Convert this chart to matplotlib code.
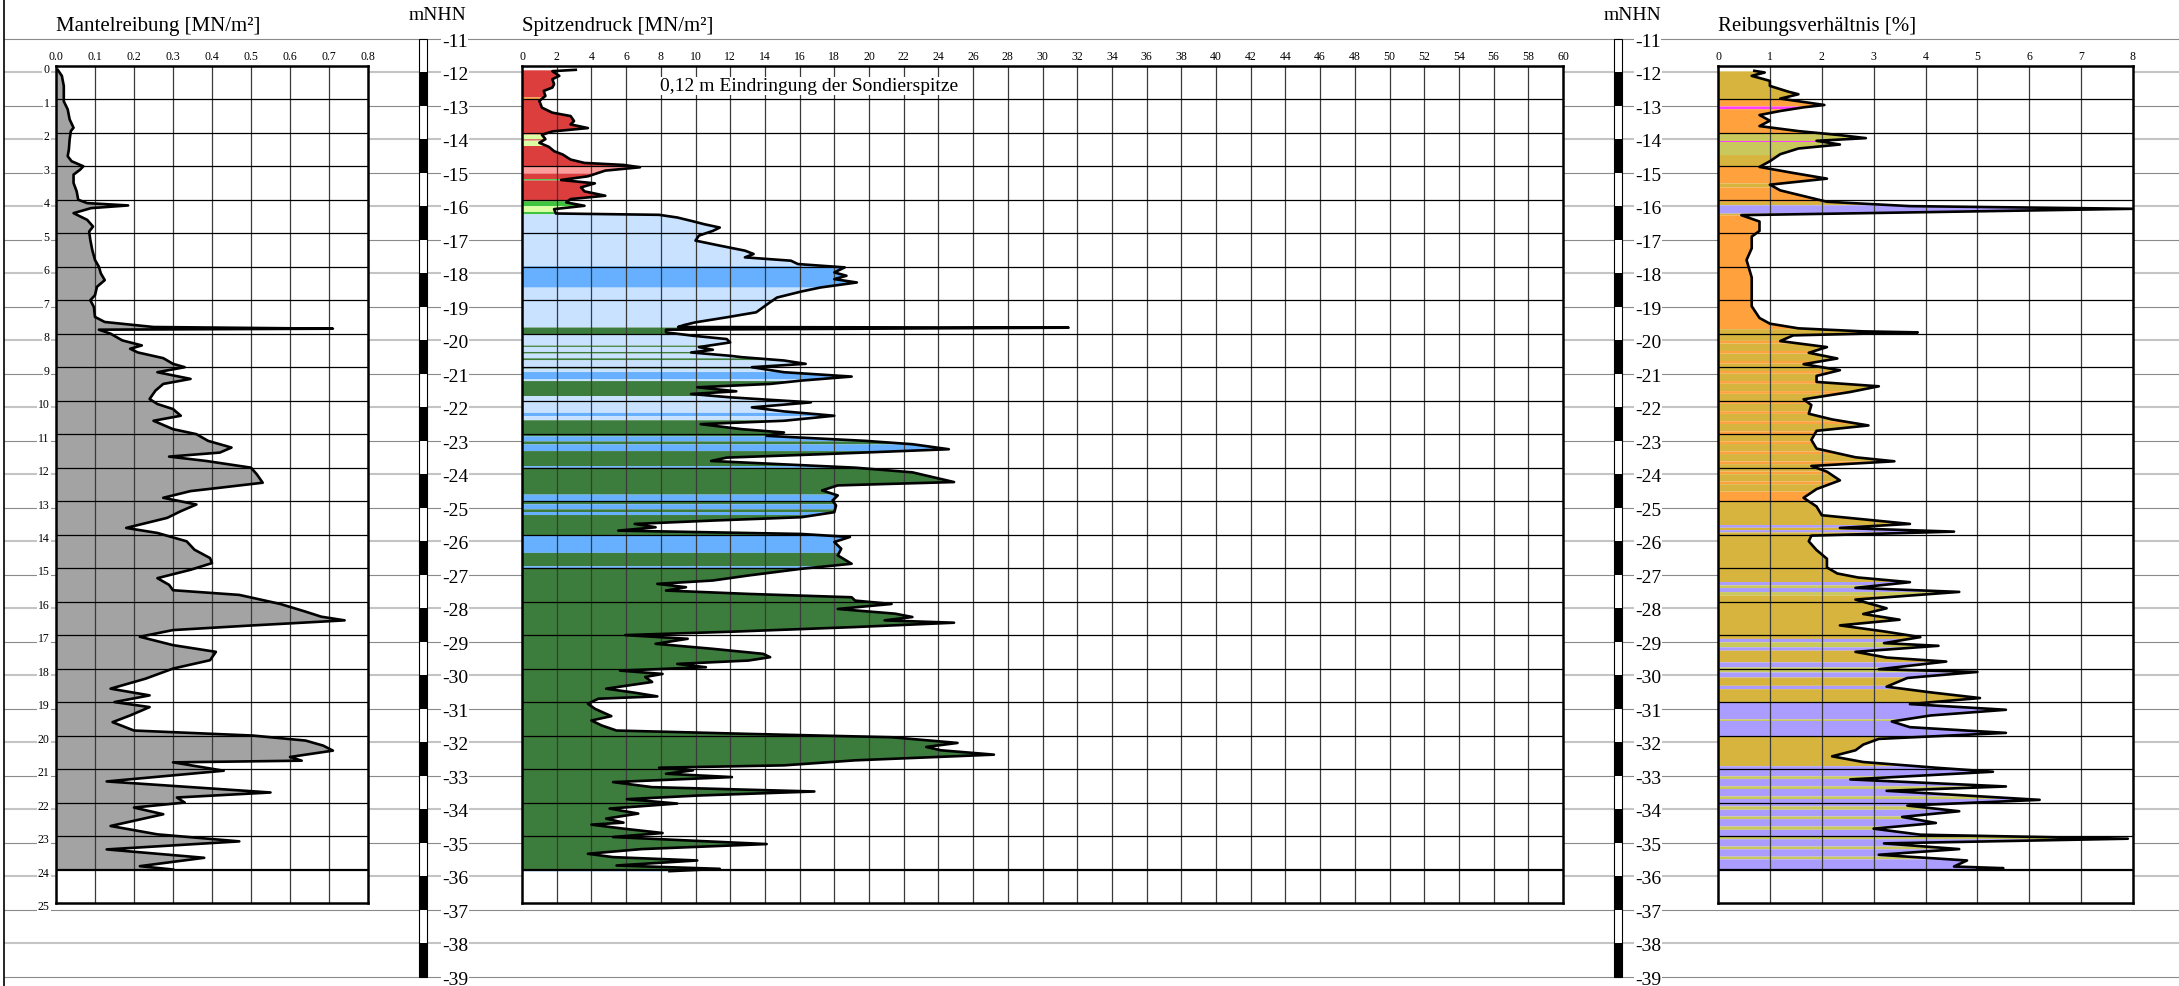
import numpy as np
import matplotlib.pyplot as plt
from matplotlib.patches import Rectangle

plt.rcParams['font.family'] = ['Liberation Serif', 'DejaVu Serif']

# ---- data (depth below box top in m, box top = -11.8 mNHN) ----
top_elev = -11.8

fs_depth = [0.13, 0.3, 0.6, 1.06, 1.3, 1.6, 1.85, 1.95, 2.2, 2.5, 2.7, 2.85, 3.0, 3.1, 3.25,
            3.5, 3.75, 4.0, 4.1, 4.17, 4.25, 4.4, 4.6, 4.8, 4.95, 5.2, 5.5, 5.8, 6.0, 6.2,
            6.4, 6.6, 6.85, 7.0, 7.2, 7.5, 7.65, 7.8, 7.85, 7.88, 8.0, 8.2, 8.35, 8.45, 8.56,
            8.73, 8.9, 9.0, 9.15, 9.35, 9.5, 9.7, 9.95, 10.1, 10.25, 10.45, 10.6, 10.85, 11.0,
            11.2, 11.4, 11.55, 11.67, 11.8, 12.0, 12.2, 12.45, 12.6, 12.7, 12.9, 13.1, 13.3,
            13.5, 13.8, 13.95, 14.2, 14.45, 14.7, 14.85, 15.05, 15.3, 15.5, 15.66, 15.8, 16.07,
            16.3, 16.45, 16.56, 16.65, 16.72, 16.85, 17.05, 17.3, 17.5, 17.75, 18.0, 18.3, 18.6,
            18.8, 19.0, 19.15, 19.4, 19.6, 19.85, 20.0, 20.15, 20.3, 20.45, 20.64, 20.75, 20.8,
            21.05, 21.37, 21.7, 21.85, 22.0, 22.15, 22.35, 22.7, 22.95, 23.16, 23.4, 23.65,
            23.9, 24.0]
fs_val = [0.005, 0.015, 0.02, 0.02, 0.03, 0.035, 0.045, 0.038, 0.035, 0.033, 0.03, 0.04, 0.07,
          0.062, 0.045, 0.045, 0.053, 0.057, 0.08, 0.185, 0.09, 0.045, 0.08, 0.095, 0.085, 0.088,
          0.093, 0.1, 0.11, 0.115, 0.125, 0.105, 0.1, 0.088, 0.097, 0.1, 0.125, 0.25, 0.71, 0.11,
          0.14, 0.17, 0.22, 0.19, 0.21, 0.275, 0.3, 0.33, 0.26, 0.345, 0.275, 0.255, 0.24, 0.26,
          0.3, 0.32, 0.25, 0.3, 0.36, 0.39, 0.45, 0.42, 0.29, 0.385, 0.5, 0.515, 0.53, 0.42,
          0.345, 0.275, 0.36, 0.32, 0.285, 0.18, 0.26, 0.335, 0.355, 0.395, 0.4, 0.345, 0.26,
          0.29, 0.3, 0.47, 0.575, 0.64, 0.68, 0.74, 0.6, 0.49, 0.3, 0.215, 0.3, 0.41, 0.395, 0.3,
          0.23, 0.14, 0.24, 0.15, 0.24, 0.19, 0.145, 0.2, 0.505, 0.64, 0.685, 0.71, 0.6, 0.63,
          0.3, 0.43, 0.13, 0.55, 0.31, 0.33, 0.2, 0.275, 0.14, 0.26, 0.47, 0.13, 0.38, 0.215, 0.3]

qc_depth = [0.12, 0.16, 0.3, 0.4, 0.55, 0.65, 0.75, 0.9, 1.05, 1.25, 1.4, 1.5, 1.65, 1.75, 1.86,
            1.96, 2.06, 2.19, 2.3, 2.42, 2.55, 2.65, 2.8, 2.9, 2.96, 3.03, 3.13, 3.3, 3.41, 3.51,
            3.63, 3.75, 3.88, 3.98, 4.08, 4.18, 4.28, 4.41, 4.45, 4.53, 4.63, 4.73, 4.83, 4.93,
            5.07, 5.22, 5.37, 5.52, 5.62, 5.72, 5.82, 5.92, 6.02, 6.17, 6.27, 6.37, 6.47, 6.62,
            6.74, 6.92, 7.06, 7.21, 7.36, 7.51, 7.66, 7.74, 7.8, 7.82, 7.88, 7.96, 8.06, 8.16,
            8.26, 8.4, 8.48, 8.56, 8.66, 8.7, 8.8, 8.9, 9.0, 9.15, 9.28, 9.4, 9.5, 9.6, 9.72, 9.8,
            9.9, 10.05, 10.2, 10.32, 10.45, 10.6, 10.7, 10.85, 10.95, 11.05, 11.2, 11.3, 11.45,
            11.6, 11.7, 11.8, 11.9, 12.0, 12.14, 12.34, 12.43, 12.53, 12.68, 12.83, 12.98, 13.13,
            13.33, 13.48, 13.58, 13.68, 13.78, 13.88, 13.98, 14.07, 14.22, 14.42, 14.62, 14.87,
            15.02, 15.22, 15.37, 15.47, 15.57, 15.67, 15.77, 15.87, 15.97, 16.07, 16.22, 16.36,
            16.46, 16.56, 16.63, 16.76, 16.9, 17.0, 17.11, 17.26, 17.41, 17.56, 17.66, 17.76,
            17.86, 17.96, 18.06, 18.16, 18.25, 18.4, 18.6, 18.72, 18.83, 18.9, 19.05, 19.2, 19.42,
            19.55, 19.7, 19.85, 19.95, 20.05, 20.22, 20.34, 20.44, 20.57, 20.74, 20.89, 20.96,
            21.04, 21.14, 21.24, 21.39, 21.54, 21.67, 21.79, 21.9, 22.03, 22.18, 22.33, 22.48,
            22.6, 22.66, 22.78, 22.91, 23.03, 23.24, 23.39, 23.53, 23.63, 23.73, 23.88, 23.98,
            24.05]
qc_val = [3.1, 1.75, 2.15, 1.75, 1.85, 1.75, 1.25, 1.35, 1.0, 1.15, 1.75, 2.8, 3.0, 2.8, 3.8,
          1.75, 1.15, 1.35, 1.0, 1.55, 1.85, 2.35, 2.8, 3.6, 5.85, 6.8, 4.8, 3.8, 2.25, 4.2, 3.4,
          3.6, 4.8, 2.8, 2.55, 3.6, 1.85, 1.95, 7.9, 8.95, 9.75, 10.5, 11.4, 11.0, 10.2, 10.0,
          11.4, 12.85, 13.35, 12.85, 15.5, 15.9, 18.6, 18.0, 18.7, 18.0, 19.3, 17.2, 16.1, 14.7,
          14.3, 13.9, 13.5, 11.8, 10.0, 9.35, 9.0, 31.5, 8.3, 8.3, 9.85, 11.8, 12.0, 10.2, 11.0,
          9.75, 12.0, 12.65, 15.1, 16.35, 13.25, 15.1, 19.0, 16.1, 14.3, 10.1, 12.35, 9.75, 12.0,
          16.65, 13.25, 15.1, 18.0, 15.1, 10.3, 12.65, 15.1, 14.1, 19.8, 22.5, 24.6, 17.2, 11.8,
          10.9, 15.1, 19.2, 22.5, 24.15, 24.9, 18.2, 17.3, 18.2, 17.9, 18.1, 18.0, 16.1, 11.0,
          6.5, 7.7, 5.55, 16.1, 18.9, 18.0, 18.4, 18.2, 19.0, 16.1, 13.05, 11.0, 7.8, 9.45, 8.3,
          13.05, 19.0, 19.2, 21.3, 18.2, 21.5, 22.5, 20.9, 24.9, 19.2, 12.0, 5.95, 9.55, 7.7,
          11.0, 13.9, 14.3, 13.05, 8.95, 10.6, 5.65, 8.1, 7.1, 7.5, 4.85, 6.5, 7.8, 4.4, 3.8, 4.2,
          5.15, 4.0, 4.6, 5.45, 13.05, 21.3, 25.1, 23.3, 24.15, 27.2, 19.2, 15.1, 7.9, 9.85, 8.3,
          12.1, 5.25, 7.5, 16.85, 10.2, 6.05, 8.95, 5.05, 6.7, 4.85, 5.85, 4.0, 5.85, 8.1, 5.25,
          14.1, 6.9, 3.8, 5.25, 10.1, 5.45, 11.4, 8.5]

rf_depth = [0.15, 0.2, 0.3, 0.45, 0.6, 0.77, 0.85, 0.98, 1.08, 1.17, 1.24, 1.35, 1.47, 1.64, 1.8,
            1.95, 2.07, 2.16, 2.24, 2.35, 2.47, 2.64, 2.85, 3.02, 3.2, 3.37, 3.55, 3.72, 3.89,
            4.06, 4.19, 4.27, 4.38, 4.46, 4.65, 4.93, 5.1, 5.45, 5.8, 6.32, 6.84, 7.18, 7.53, 7.7,
            7.84, 7.93, 7.96, 8.05, 8.22, 8.4, 8.57, 8.74, 8.91, 9.09, 9.26, 9.44, 9.57, 9.74,
            9.96, 10.13, 10.39, 10.56, 10.74, 10.9, 11.17, 11.43, 11.69, 11.81, 11.95, 12.12,
            12.38, 12.64, 12.9, 13.16, 13.42, 13.68, 13.8, 13.91, 14.03, 14.2, 14.46, 14.72,
            14.98, 15.16, 15.28, 15.42, 15.59, 15.71, 15.94, 16.2, 16.37, 16.54, 16.71, 16.89,
            17.06, 17.24, 17.32, 17.5, 17.67, 17.79, 18.02, 18.1, 18.28, 18.54, 18.71, 18.88,
            19.06, 19.23, 19.4, 19.58, 19.75, 19.92, 20.1, 20.27, 20.44, 20.62, 20.79, 20.96,
            21.08, 21.31, 21.52, 21.65, 21.92, 22.09, 22.26, 22.43, 22.61, 22.78, 22.96, 23.08,
            23.22, 23.39, 23.56, 23.73, 23.91, 23.96, 24.0]
rf_val = [0.7, 0.9, 0.65, 1.0, 1.0, 1.35, 1.55, 1.2, 1.65, 2.05, 1.65, 1.2, 0.8, 1.0, 0.8, 1.55,
          2.35, 2.85, 1.9, 2.35, 1.55, 1.2, 1.0, 0.8, 1.45, 2.1, 1.0, 1.2, 1.65, 2.1, 3.7, 8.0,
          3.7, 0.45, 0.8, 0.8, 0.65, 0.65, 0.55, 0.65, 0.65, 0.65, 0.8, 1.0, 1.55, 2.8, 3.85,
          1.45, 1.2, 2.1, 1.75, 2.3, 1.65, 2.35, 1.9, 1.9, 3.1, 2.55, 1.65, 1.8, 1.75, 2.2, 2.9,
          1.9, 1.8, 1.9, 2.65, 3.4, 1.8, 2.1, 2.35, 1.9, 1.65, 1.9, 2.0, 3.7, 2.35, 4.55, 1.8,
          1.75, 1.9, 2.1, 2.1, 2.3, 2.7, 3.7, 2.65, 4.65, 2.65, 3.25, 2.8, 3.5, 2.35, 3.2, 3.9,
          3.2, 4.25, 2.65, 3.25, 4.4, 3.1, 5.0, 3.65, 3.25, 4.1, 5.05, 3.7, 5.55, 4.1, 3.35, 3.7,
          5.55, 3.1, 2.8, 2.65, 2.2, 2.8, 4.2, 5.3, 2.55, 5.55, 3.25, 6.2, 3.65, 4.65, 3.55, 4.2,
          3.0, 3.9, 7.9, 3.2, 4.65, 3.1, 4.8, 4.55, 5.5, 5.0]

# soil class bands (top mNHN, bottom mNHN, colour)
RED, PINK, LGREEN, GREEN = '#dc3d3d', '#ff9c9c', '#dcffa4', '#3ec43e'
LBLUE, MBLUE, DGREEN, ORANGE = '#c8e2ff', '#66b0ff', '#3c7c3c', '#ffa13c'
qc_bands = [
    (-11.8, -12.73, RED), (-12.73, -12.78, ORANGE), (-12.78, -13.84, RED),
    (-13.84, -13.98, LGREEN), (-13.98, -14.02, RED), (-14.02, -14.18, LGREEN),
    (-14.18, -14.8, RED), (-14.8, -15.0, PINK), (-15.0, -15.17, RED),
    (-15.17, -15.21, GREEN), (-15.21, -15.83, RED), (-15.83, -15.98, GREEN),
    (-15.98, -16.15, LGREEN), (-16.15, -16.22, GREEN), (-16.22, -17.77, LBLUE),
    (-17.77, -18.41, MBLUE), (-18.41, -19.6, LBLUE), (-19.6, -19.8, DGREEN),
    (-19.8, -20.14, LBLUE), (-20.14, -20.18, DGREEN), (-20.18, -20.33, LBLUE),
    (-20.33, -20.38, DGREEN), (-20.38, -20.52, LBLUE), (-20.52, -20.58, DGREEN),
    (-20.58, -20.8, LBLUE), (-20.8, -20.83, DGREEN), (-20.83, -20.93, LBLUE),
    (-20.93, -21.15, MBLUE), (-21.15, -21.2, LBLUE), (-21.2, -21.65, DGREEN),
    (-21.65, -21.8, LBLUE), (-21.8, -21.83, DGREEN), (-21.83, -22.15, LBLUE),
    (-22.15, -22.25, MBLUE), (-22.25, -22.37, LBLUE), (-22.37, -22.85, DGREEN),
    (-22.85, -23.0, MBLUE), (-23.0, -23.09, DGREEN), (-23.09, -23.29, MBLUE),
    (-23.29, -23.74, DGREEN), (-23.74, -23.79, MBLUE), (-23.79, -24.59, DGREEN),
    (-24.59, -24.79, MBLUE), (-24.79, -24.88, DGREEN), (-24.88, -25.03, MBLUE),
    (-25.03, -25.11, DGREEN), (-25.11, -25.2, MBLUE), (-25.2, -25.81, DGREEN),
    (-25.81, -26.33, MBLUE), (-26.33, -26.73, DGREEN), (-26.73, -26.78, MBLUE),
    (-26.78, -35.78, DGREEN), (-35.78, -35.9, LBLUE)]

OLIVE, MAG, LAV, YG = '#d6b43e', '#ff3cff', '#ab9cff', '#c9c85c'
rf_bands = [
    (-11.8, -12.8, OLIVE), (-12.8, -13.0, ORANGE), (-13.0, -13.08, MAG),
    (-13.08, -13.8, ORANGE), (-13.8, -14.03, YG), (-14.03, -14.06, MAG),
    (-14.06, -14.45, YG), (-14.45, -14.8, OLIVE), (-14.8, -15.3, ORANGE),
    (-15.3, -15.42, OLIVE), (-15.42, -15.85, ORANGE), (-15.85, -15.95, OLIVE),
    (-15.95, -16.2, LAV), (-16.2, -16.25, OLIVE), (-16.25, -19.65, ORANGE),
    (-19.65, -20.0, OLIVE), (-20.0, -20.08, ORANGE), (-20.08, -20.3, OLIVE),
    (-20.3, -20.38, ORANGE), (-20.38, -20.6, OLIVE), (-20.6, -20.68, ORANGE),
    (-20.68, -20.9, OLIVE), (-20.9, -20.98, ORANGE), (-20.98, -21.2, OLIVE),
    (-21.2, -21.28, ORANGE), (-21.28, -21.5, OLIVE), (-21.5, -21.58, ORANGE),
    (-21.58, -21.8, OLIVE), (-21.8, -21.88, ORANGE), (-21.88, -22.1, OLIVE),
    (-22.1, -22.18, ORANGE), (-22.18, -22.4, OLIVE), (-22.4, -22.48, ORANGE),
    (-22.48, -22.7, OLIVE), (-22.7, -22.78, ORANGE), (-22.78, -23.0, OLIVE),
    (-23.0, -23.08, ORANGE), (-23.08, -23.3, OLIVE), (-23.3, -23.38, ORANGE),
    (-23.38, -23.6, OLIVE), (-23.6, -23.68, ORANGE), (-23.68, -23.9, OLIVE),
    (-23.9, -23.98, ORANGE), (-23.98, -24.2, OLIVE), (-24.2, -24.28, ORANGE),
    (-24.28, -24.5, OLIVE), (-24.5, -24.8, ORANGE),
    (-24.8, -25.5, OLIVE), (-25.5, -25.58, LAV), (-25.58, -25.65, OLIVE),
    (-25.65, -25.72, LAV), (-25.72, -27.2, OLIVE), (-27.2, -27.3, LAV),
    (-27.3, -27.38, YG), (-27.38, -27.5, LAV), (-27.5, -27.6, YG),
    (-27.6, -28.9, OLIVE), (-28.9, -29.0, LAV), (-29.0, -29.15, YG),
    (-29.15, -29.25, LAV), (-29.25, -29.6, OLIVE), (-29.6, -29.75, LAV),
    (-29.75, -29.9, YG), (-29.9, -30.05, LAV), (-30.05, -30.3, OLIVE),
    (-30.3, -30.4, LAV), (-30.4, -30.8, OLIVE), (-30.8, -31.3, LAV),
    (-31.3, -31.35, YG), (-31.35, -31.8, LAV), (-31.8, -32.7, OLIVE),
    (-32.7, -33.0, LAV), (-33.0, -33.08, YG), (-33.08, -33.3, LAV),
    (-33.3, -33.38, YG), (-33.38, -33.6, LAV), (-33.6, -33.68, YG),
    (-33.68, -33.9, LAV), (-33.9, -34.0, YG), (-34.0, -34.2, LAV),
    (-34.2, -34.28, YG), (-34.28, -34.5, LAV), (-34.5, -34.6, YG),
    (-34.6, -34.8, LAV), (-34.8, -34.88, YG), (-34.88, -35.1, LAV),
    (-35.1, -35.18, YG), (-35.18, -35.4, LAV), (-35.4, -35.48, YG),
    (-35.48, -35.8, LAV)]

depth_labels = list(range(26))
nhn_levels = list(range(-11, -40, -1))

# ---- layout (pixels) ----
W, H = 2179, 987
PPM = 33.49                       # pixels per metre
Y_TOP, Y_BOT = 66.8, 904.0        # panel box top / bottom
fig = plt.figure(figsize=(W / 100, H / 100), dpi=100)

bg = fig.add_axes([0, 0, 1, 1])
bg.set_xlim(0, W)
bg.set_ylim(-11 - (H - 40) / PPM, -11 + 40 / PPM)
bg.axis('off')

for lv in nhn_levels:
    if lv % 2 == 0:
        bg.hlines(lv, 4, W, color='#c4c4c4', lw=1.5, zorder=0)
    else:
        bg.hlines(lv, 4, W, color='#8a8a8a', lw=0.8, zorder=0)
bg.vlines(4, bg.get_ylim()[0], bg.get_ylim()[1], color='black', lw=1.2)

for d in depth_labels:
    bg.text(49.5, -12 - d + 0.1, str(d), ha='right', va='center', fontsize=8.5,
            bbox=dict(fc='white', ec='none', pad=0.8))

for xb, xl, xm in [(419, 442, 437.5), (1614, 1635, 1632)]:
    bg.add_patch(Rectangle((xb, -39), 8, 28, fc='white', ec='black', lw=0.8, zorder=3))
    for lv in range(-12, -39, -2):
        bg.add_patch(Rectangle((xb, lv - 1), 8, 1, fc='black', ec='none', zorder=4))
    for lv in nhn_levels:
        bg.text(xl, lv - 0.07, str(lv), ha='left', va='center', fontsize=14,
                bbox=dict(fc='white', ec='none', pad=0.6), zorder=5)
    bg.text(xm, -11 + 25 / PPM, 'mNHN', ha='center', va='center', fontsize=14)


def fill_bands(ax, elev, vals, bands):
    z, v = elev[::-1], vals[::-1]
    for top, bot, col in bands:
        hi, lo = min(top, z[-1]), max(bot, z[0])
        if hi <= lo:
            continue
        inner = (z > lo) & (z < hi)
        ys = np.concatenate([[lo], z[inner], [hi]])
        ax.fill_betweenx(ys, 0, np.interp(ys, z, v), color=col, lw=0, zorder=1)


def panel(x0, x1, xmax, step, fmt, title, depth, vals, bands):
    ax = fig.add_axes([x0 / W, 1 - Y_BOT / H, (x1 - x0) / W, (Y_BOT - Y_TOP) / H])
    ax.set_xlim(0, xmax)
    ax.set_ylim(top_elev - 25, top_elev)
    elev = top_elev - np.array(depth)
    vals = np.array(vals)
    fill_bands(ax, elev, vals, bands)
    ticks = np.arange(0, xmax + step / 2, step)
    for t in ticks[1:-1]:
        ax.axvline(t, color='#3a3a3a', lw=0.9, zorder=2)
    for k in range(1, 25):
        ax.axhline(top_elev - k, color='black', lw=1.6 if k == 24 else 0.9, zorder=2)
    ax.plot(vals, elev, color='black', lw=1.9, zorder=3)
    ax.xaxis.tick_top()
    ax.set_xticks(ticks)
    ax.set_xticklabels([fmt.format(t) for t in ticks])
    ax.tick_params(axis='x', length=0, pad=3, labelsize=8.5)
    ax.set_yticks([])
    for s in ax.spines.values():
        s.set_linewidth(1.8)
    fig.text(x0 / W, 1 - 27 / H, title, ha='left', va='center', fontsize=15)
    return ax


ax1 = panel(56, 368, 0.8, 0.1, '{:.1f}', 'Mantelreibung [MN/m²]', fs_depth, fs_val,
            [(-11.8, -36.8, '#a3a3a3')])
ax2 = panel(522, 1563, 60, 2, '{:.0f}', 'Spitzendruck [MN/m²]', qc_depth, qc_val, qc_bands)
ax3 = panel(1718, 2133, 8, 1, '{:.0f}', 'Reibungsverhältnis [%]', rf_depth, rf_val, rf_bands)

ax2.text(7.95, -12.4, '0,12 m Eindringung der Sondierspitze', ha='left', va='center',
         fontsize=14, zorder=4, bbox=dict(fc='white', ec='none', pad=0.5))

fig.savefig('out.png', dpi=100)
